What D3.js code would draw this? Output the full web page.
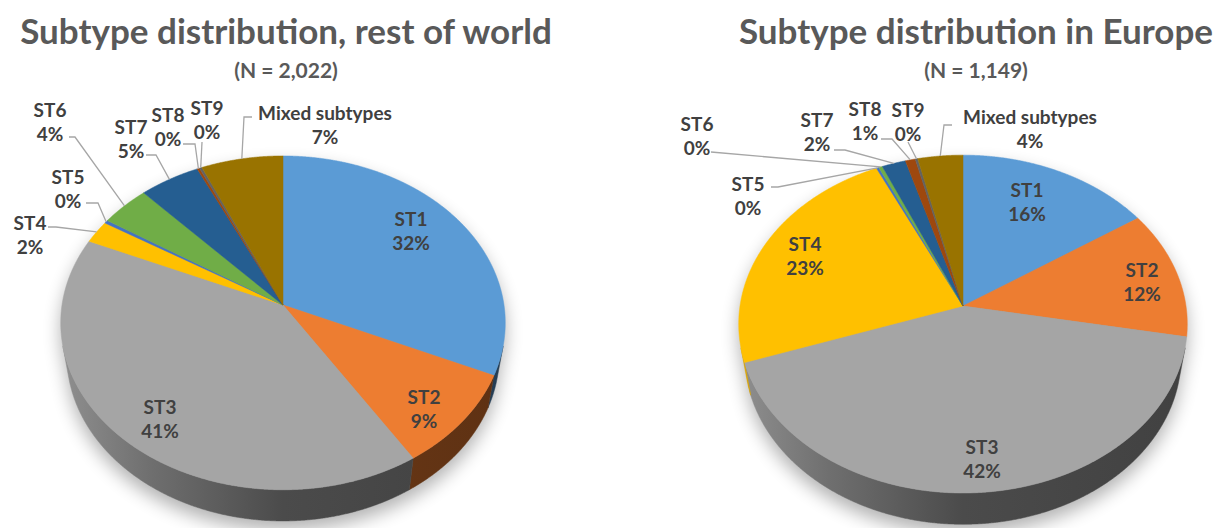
<!DOCTYPE html>
<html>
<head>
<meta charset="utf-8">
<script src="https://cdn.jsdelivr.net/npm/d3@7"></script>
<style>
  body { margin: 0; background: #fff; }
  svg { display: block; }
</style>
</head>
<body>
<div id="chart"></div>
<script>
// data (percent of isolates)
const categories = ['ST1', 'ST2', 'ST3', 'ST4', 'ST5', 'ST6', 'ST7', 'ST8', 'ST9', 'Mixed subtypes'];
const worldShares = [31.7, 9.3, 40.6, 2.2, 0.3, 4.0, 4.9, 0.2, 0.2, 6.6];
const europeShares = [15.6, 12.3, 41.8, 23.3, 0.2, 0.3, 1.9, 0.8, 0.2, 3.6];
const sliceColors = ['#5B9BD5', '#ED7D31', '#A5A5A5', '#FFC000', '#4472C4', '#70AD47', '#255E91', '#9E480E', '#636363', '#997300'];
const titles = ['Subtype distribution, rest of world', 'Subtype distribution in Europe'];
const subtitles = ['(N = 2,022)', '(N = 1,149)'];

const width = 1217;
const height = 528;
const labelSize = 19;
const lineGap = 24.5;

// label placement, as dragged in the original: [x, y] of the name line,
// plus leader start [x, y] and a short horizontal elbow for outside labels
const worldLabels = [
  [411, 219], [424, 397], [160, 407],
  [30, 223, 48, 227, 8],
  [68, 177, 86, 203, 12],
  [50, 110, 69, 137, 6],
  [131, 127, 146, 155, 10],
  [168, 115, 183, 144, 12],
  [207, 108, 202, 142, 0],
  [325, 113, 252, 117, -8]
];
const europeLabels = [
  [1027, 190], [1142, 270], [982, 447], [805, 244],
  [748, 184, 771, 187, 7],
  [697, 124, 711, 152, 0],
  [817, 120, 834, 150, 11],
  [865, 109, 881, 139, 11],
  [908, 110, 908, 142, 0],
  [1030, 117, 952, 125, -8]
];

const charts = [
  { id: 'w', values: worldShares, title: titles[0], sub: subtitles[0], labels: worldLabels,
    cx: 283, cy: 305, rx: 221, ry: 165, titleX: 286 },
  { id: 'e', values: europeShares, title: titles[1], sub: subtitles[1], labels: europeLabels,
    cx: 963, cy: 306, rx: 223, ry: 167, titleX: 976 }
];

const svg = d3.select('#chart').append('svg')
  .attr('width', width)
  .attr('height', height);

const defs = svg.append('defs');
defs.append('filter')
    .attr('id', 'soft')
    .attr('x', '-20%').attr('y', '-20%')
    .attr('width', '140%').attr('height', '140%')
  .append('feGaussianBlur')
    .attr('stdDeviation', 9);

const pie = d3.pie().sort(null).value(d => d);
const pct = d3.format('.0%');
const line = d3.line();

// perspective view of a flat cylinder, like Excel's 3D pie
function makeProjection(cx, cy, rx, ry) {
  const k = 0.107;           // perspective strength
  const sinA = ry / rx;
  const cosA = Math.sqrt(1 - sinA * sinA);
  const dc = cosA / k;
  const f = rx * dc;
  const proj = function(theta, r, y) {
    const x = r * Math.sin(theta), z = r * Math.cos(theta);
    const up = y * cosA + z * sinA;
    const depth = dc + z * cosA - y * sinA;
    return [cx + f * x / depth, cy - f * up / depth];
  };
  // the rim is seen only where its normal faces the camera
  proj.sideFrom = Math.acos(-1 / (dc * cosA));
  proj.sideTo = 2 * Math.PI - proj.sideFrom;
  return proj;
}

function drawPie(cfg) {
  const thick = -0.23;
  const proj = makeProjection(cfg.cx, cfg.cy, cfg.rx, cfg.ry);
  const arcs = pie(cfg.values);
  const step = Math.PI / 720;

  function rim(t0, t1, y) {
    const n = Math.max(2, Math.ceil(Math.abs(t1 - t0) / step));
    return d3.range(n + 1).map(i => proj(t0 + (t1 - t0) * i / n, 1, y));
  }
  function band(t0, t1) {
    return rim(t0, t1, 0).concat(rim(t1, t0, thick));
  }

  const g = svg.append('g');

  // soft drop shadow under the whole cake
  const shadow = g.append('g')
    .attr('filter', 'url(#soft)')
    .attr('opacity', 0.3)
    .attr('transform', 'translate(0,9)');
  shadow.append('path')
    .attr('d', line(rim(0, 2 * Math.PI, 0)) + 'Z')
    .attr('fill', '#000');
  shadow.append('path')
    .attr('d', line(band(proj.sideFrom, proj.sideTo)) + 'Z')
    .attr('fill', '#000');

  // side gradients, lit from the left
  arcs.forEach((d, i) => {
    const c = d3.color(sliceColors[i]);
    const grad = defs.append('linearGradient')
      .attr('id', `side-${cfg.id}-${i}`)
      .attr('gradientUnits', 'userSpaceOnUse')
      .attr('x1', cfg.cx - cfg.rx).attr('x2', cfg.cx + cfg.rx)
      .attr('y1', 0).attr('y2', 0);
    [[0, 0.4], [0.2, 1.1], [0.5, 2.2], [1, 2.6]].forEach(s => {
      grad.append('stop')
        .attr('offset', s[0])
        .attr('stop-color', c.darker(s[1]).formatHex());
    });
  });

  g.selectAll('.side')
    .data(arcs.filter(d => d.endAngle > proj.sideFrom && d.startAngle < proj.sideTo))
    .enter().append('path')
      .attr('class', 'side')
      .attr('d', d => line(band(Math.max(d.startAngle, proj.sideFrom), Math.min(d.endAngle, proj.sideTo))) + 'Z')
      .attr('fill', d => `url(#side-${cfg.id}-${d.index})`)
      .attr('stroke', d => `url(#side-${cfg.id}-${d.index})`)
      .attr('stroke-width', 0.5);

  g.selectAll('.top')
    .data(arcs)
    .enter().append('path')
      .attr('class', 'top')
      .attr('d', d => line([proj(0, 0, 0)].concat(rim(d.startAngle, d.endAngle, 0))) + 'Z')
      .attr('fill', d => sliceColors[d.index])
      .attr('stroke', d => sliceColors[d.index])
      .attr('stroke-width', 0.5)
      .attr('stroke-linejoin', 'round');

  // leader lines from the dragged labels to the slice rim
  g.selectAll('.leader')
    .data(arcs.filter(d => cfg.labels[d.index].length > 2))
    .enter().append('path')
      .attr('class', 'leader')
      .attr('d', d => {
        const L = cfg.labels[d.index];
        const mid = (d.startAngle + d.endAngle) / 2;
        return line([[L[2], L[3]], [L[2] + L[4], L[3]], proj(mid, 1, 0)]);
      })
      .attr('fill', 'none')
      .attr('stroke', '#a6a6a6')
      .attr('stroke-width', 1.3);

  const labels = g.selectAll('.lbl')
    .data(arcs)
    .enter().append('text')
      .attr('class', 'lbl')
      .attr('text-anchor', 'middle')
      .style('font-family', 'Lato, "Open Sans", sans-serif')
      .style('font-weight', 700)
      .style('font-size', labelSize + 'px')
      .attr('fill', '#404040');
  labels.append('tspan')
    .attr('x', d => cfg.labels[d.index][0])
    .attr('y', d => cfg.labels[d.index][1] + labelSize * 0.36)
    .text(d => categories[d.index]);
  labels.append('tspan')
    .attr('x', d => cfg.labels[d.index][0])
    .attr('y', d => cfg.labels[d.index][1] + lineGap + labelSize * 0.36)
    .text(d => pct(d.value / 100));

  svg.append('text')
    .attr('x', cfg.titleX)
    .attr('y', 44)
    .attr('text-anchor', 'middle')
    .style('font-family', 'Lato, "Open Sans", sans-serif')
    .style('font-weight', 700)
    .style('font-size', '35px')
    .attr('fill', '#595959')
    .text(cfg.title);

  svg.append('text')
    .attr('x', cfg.titleX)
    .attr('y', 78)
    .attr('text-anchor', 'middle')
    .style('font-family', 'Lato, "Open Sans", sans-serif')
    .style('font-weight', 700)
    .style('font-size', '21px')
    .attr('fill', '#595959')
    .text(cfg.sub);
}

charts.forEach(drawPie);
</script>
</body>
</html>
